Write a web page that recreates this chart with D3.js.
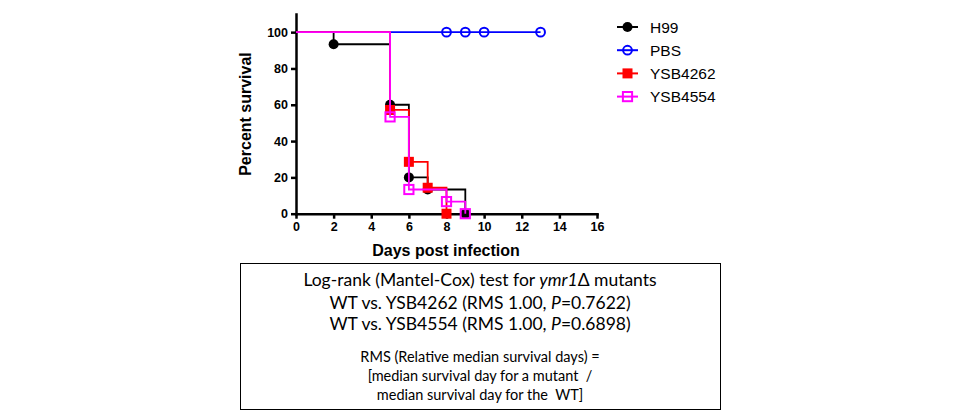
<!DOCTYPE html>
<html>
<head>
<meta charset="utf-8">
<script src="https://cdn.jsdelivr.net/npm/d3@7"></script>
<style>
  body { margin: 0; background: #fff; }
  .axis text { font-family: "Liberation Sans", Arial, sans-serif; font-weight: bold; font-size: 12.5px; fill: #000; }
  .axis path, .axis line { stroke: #000; stroke-width: 2.5px; }
  .axisTitle { font-family: "Liberation Sans", Arial, sans-serif; font-weight: bold; font-size: 16px; }
  .legend text { font-family: "Liberation Sans", Arial, sans-serif; font-size: 15.5px; }
  .note { font-family: Lato, "Open Sans", sans-serif; fill: #000; }
</style>
</head>
<body>
<div id="chart"></div>
<script>
// survival data (days, percent survival)
var seriesNames = ["H99", "PBS", "YSB4262", "YSB4554"];
var seriesColors = ["#000000", "#0000ff", "#ff0000", "#ff00ff"];

var h99Days = [0, 2, 5, 6, 7, 9];
var h99Surv = [100, 93.33, 60, 20, 13.33, 0];

var pbsDays = [0, 8, 9, 10, 13];
var pbsSurv = [100, 100, 100, 100, 100];

var ysb4262Days = [0, 5, 6, 7, 8];
var ysb4262Surv = [100, 57.14, 28.57, 14.29, 0];

var ysb4554Days = [0, 5, 6, 8, 9];
var ysb4554Surv = [100, 53.33, 13.33, 6.67, 0];

var xTicks = [0, 2, 4, 6, 8, 10, 12, 14, 16];
var yTicks = [0, 20, 40, 60, 80, 100];

var noteLines = [
  "WT vs. YSB4262 (RMS 1.00, |P|=0.7622)",
  "WT vs. YSB4554 (RMS 1.00, |P|=0.6898)"
];
var rmsLines = [
  "RMS (Relative median survival days) =",
  "[median survival day for a mutant  /",
  "median survival day for the  WT]"
];

var series = [
  {name: seriesNames[0], color: seriesColors[0], shape: "circle", filled: true,
   pts: h99Days.map((d, i) => ({day: d, surv: h99Surv[i]}))},
  {name: seriesNames[1], color: seriesColors[1], shape: "circle", filled: false,
   pts: pbsDays.map((d, i) => ({day: d, surv: pbsSurv[i]}))},
  {name: seriesNames[2], color: seriesColors[2], shape: "square", filled: true,
   pts: ysb4262Days.map((d, i) => ({day: d, surv: ysb4262Surv[i]}))},
  {name: seriesNames[3], color: seriesColors[3], shape: "square", filled: false,
   pts: ysb4554Days.map((d, i) => ({day: d, surv: ysb4554Surv[i]}))}
];

var W = 960, H = 415;
var svg = d3.select("#chart").append("svg")
  .attr("width", W).attr("height", H);

// plot area
var x = d3.scaleLinear().domain([0, 16]).range([296, 597]);
var y = d3.scaleLinear().domain([0, 110]).range([213.7, 14]);

// axes
svg.append("g")
  .attr("class", "axis")
  .attr("transform", `translate(0, ${y(0)})`)
  .call(d3.axisBottom(x).tickValues(xTicks).tickSize(5).tickSizeOuter(0).tickPadding(3));

svg.append("g")
  .attr("class", "axis")
  .attr("transform", `translate(${x(0)}, 0)`)
  .call(d3.axisLeft(y).tickValues(yTicks).tickSize(5).tickSizeOuter(0).tickPadding(3));

svg.selectAll(".axis .domain").attr("stroke-linecap", "square");

// axis titles
svg.append("text")
  .attr("class", "axisTitle")
  .attr("transform", "translate(251, 114) rotate(-90)")
  .attr("text-anchor", "middle")
  .text("Percent survival");

svg.append("text")
  .attr("class", "axisTitle")
  .attr("x", 446).attr("y", 256)
  .attr("text-anchor", "middle")
  .text("Days post infection");

// step curves
var line = d3.line()
  .x(d => x(d.day))
  .y(d => y(d.surv))
  .curve(d3.curveStepAfter);

function drawMarker(g, s, cx, cy) {
  if (s.shape === "circle") {
    g.append("circle")
      .attr("cx", cx).attr("cy", cy)
      .attr("r", s.filled ? 5 : 4.4)
      .attr("fill", s.filled ? s.color : "none")
      .attr("stroke", s.color)
      .attr("stroke-width", s.filled ? 0 : 2);
  } else {
    var sz = s.filled ? 10 : 9.2;
    g.append("rect")
      .attr("x", cx - sz / 2).attr("y", cy - sz / 2)
      .attr("width", sz).attr("height", sz)
      .attr("fill", s.filled ? s.color : "none")
      .attr("stroke", s.color)
      .attr("stroke-width", s.filled ? 0 : 2);
  }
}

series.forEach(function(s) {
  var g = svg.append("g");
  g.append("path")
    .datum(s.pts)
    .attr("d", line)
    .attr("fill", "none")
    .attr("stroke", s.color)
    .attr("stroke-width", 1.8);
  s.pts.filter(d => d.day > 0).forEach(function(d) {
    drawMarker(g, s, x(d.day), y(d.surv));
  });
});

// legend
var legend = svg.append("g").attr("class", "legend");
series.forEach(function(s, i) {
  var ly = 27 + i * 23.2;
  legend.append("line")
    .attr("x1", 617).attr("x2", 638)
    .attr("y1", ly).attr("y2", ly)
    .attr("stroke", s.color).attr("stroke-width", 2);
  drawMarker(legend, s, 627.5, ly);
  legend.append("text")
    .attr("x", 650).attr("y", ly + 5.5)
    .text(s.name);
});

// note box
svg.append("rect")
  .attr("x", 240.5).attr("y", 263.5)
  .attr("width", 480).attr("height", 146)
  .attr("fill", "none").attr("stroke", "#000").attr("stroke-width", 1);

var t1 = svg.append("text").attr("class", "note")
  .attr("x", 480).attr("y", 286).attr("text-anchor", "middle")
  .style("font-size", "17.5px");
t1.append("tspan").text("Log-rank (Mantel-Cox) test for ");
t1.append("tspan").style("font-style", "italic").text("ymr1");
t1.append("tspan").text("\u0394 mutants");

noteLines.forEach(function(l, i) {
  var parts = l.split("|");
  var t = svg.append("text").attr("class", "note")
    .attr("x", 480).attr("y", 309 + i * 20.5).attr("text-anchor", "middle")
    .style("font-size", "17.5px");
  t.append("tspan").text(parts[0]);
  t.append("tspan").style("font-style", "italic").text(parts[1]);
  t.append("tspan").text(parts[2]);
});

rmsLines.forEach(function(l, i) {
  svg.append("text").attr("class", "note")
    .attr("x", 480).attr("y", 362 + i * 19).attr("text-anchor", "middle")
    .style("font-size", "14.5px")
    .style("white-space", "pre")
    .text(l);
});
</script>
</body>
</html>
